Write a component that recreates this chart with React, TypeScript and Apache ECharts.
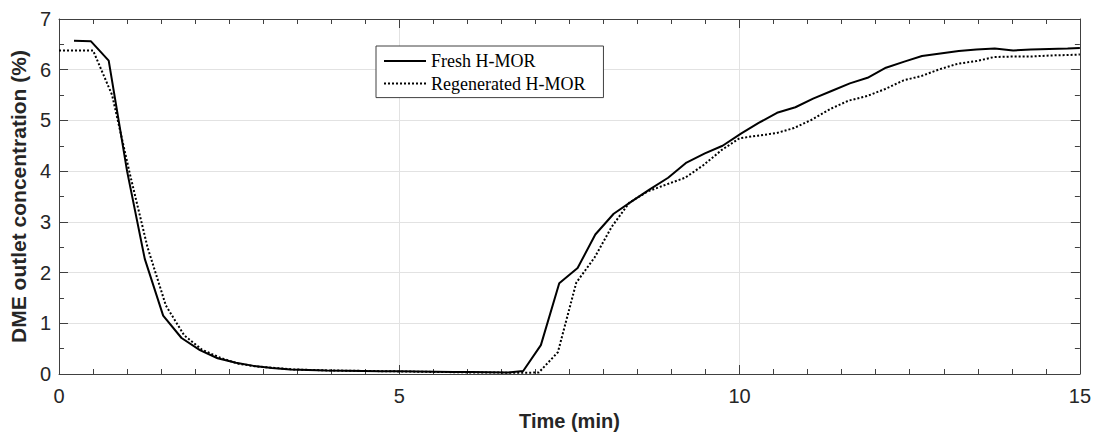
import React, { useEffect, useRef } from "react";
import * as echarts from "echarts";

const freshTime = [0.22, 0.47, 0.73, 1.0, 1.26, 1.53, 1.8, 2.07, 2.33, 2.6, 2.86, 3.13, 3.4, 3.66, 3.93, 4.2, 4.46, 4.73, 5.0, 5.26, 5.53, 5.8, 6.06, 6.33, 6.6, 6.82, 7.08, 7.35, 7.62, 7.88, 8.15, 8.41, 8.68, 8.95, 9.22, 9.49, 9.75, 10.02, 10.28, 10.55, 10.82, 11.08, 11.35, 11.62, 11.88, 12.15, 12.42, 12.68, 12.95, 13.22, 13.48, 13.75, 14.02, 14.28, 14.55, 14.82, 15.0];
const freshValue = [6.57, 6.56, 6.18, 4.0, 2.27, 1.15, 0.71, 0.47, 0.31, 0.22, 0.16, 0.12, 0.09, 0.08, 0.07, 0.065, 0.06, 0.055, 0.055, 0.05, 0.045, 0.04, 0.04, 0.035, 0.03, 0.06, 0.57, 1.79, 2.09, 2.75, 3.16, 3.4, 3.64, 3.87, 4.17, 4.35, 4.5, 4.74, 4.95, 5.15, 5.26, 5.43, 5.58, 5.73, 5.84, 6.04, 6.16, 6.27, 6.32, 6.37, 6.4, 6.42, 6.38, 6.4, 6.41, 6.42, 6.43];

const regenTime = [0.0, 0.25, 0.5, 0.78, 1.04, 1.3, 1.57, 1.84, 2.1, 2.37, 2.64, 2.9, 3.17, 3.44, 3.7, 3.97, 4.24, 4.5, 4.77, 5.04, 5.3, 5.57, 5.84, 6.1, 6.37, 6.64, 6.9, 7.05, 7.33, 7.6, 7.87, 8.12, 8.38, 8.65, 8.93, 9.2, 9.47, 9.74, 10.0, 10.27, 10.54, 10.8, 11.07, 11.34, 11.6, 11.87, 12.14, 12.41, 12.68, 12.94, 13.21, 13.48, 13.74, 14.01, 14.28, 14.55, 14.82, 15.0];
const regenValue = [6.38, 6.38, 6.38, 5.5, 3.95, 2.5, 1.35, 0.76, 0.48, 0.32, 0.2, 0.15, 0.12, 0.09, 0.08, 0.07, 0.065, 0.06, 0.055, 0.05, 0.045, 0.04, 0.035, 0.03, 0.03, 0.025, 0.025, 0.03, 0.43, 1.8, 2.3, 2.9, 3.38, 3.6, 3.74, 3.87, 4.12, 4.42, 4.65, 4.7, 4.75, 4.85, 5.02, 5.23, 5.39, 5.48, 5.62, 5.79, 5.88, 6.01, 6.12, 6.17, 6.25, 6.26, 6.26, 6.28, 6.29, 6.3];

const seriesNames = ["Fresh H-MOR", "Regenerated H-MOR"];
const xTitle = "Time (min)";
const yTitle = "DME outlet concentration (%)";

const sans = "'Liberation Sans', Arial, Helvetica, sans-serif";
const serif = "'Liberation Serif', 'Times New Roman', serif";
const axisColor = "#404040";
const gridColor = "#e2e2e2";

export default function App() {
  const ref = useRef<HTMLDivElement>(null);
  useEffect(() => {
    document.body.style.margin = "0";
    if (!ref.current) return;
    const chart = echarts.init(ref.current, null, { renderer: "svg" });
    const pair = (t: number[], v: number[]) => t.map((x, i) => [x, v[i]]);
    const frameX = (pos: "bottom" | "top") => ({
      type: "value",
      position: pos,
      min: 0,
      max: 15,
      interval: 5,
      axisLine: { show: true, onZero: false, lineStyle: { color: axisColor, width: 1 } },
      axisTick: { show: true, inside: true, length: 9, lineStyle: { color: axisColor } },
      minorTick: { show: true, splitNumber: 10, length: 5, lineStyle: { color: axisColor } },
      splitLine: { show: pos === "bottom", lineStyle: { color: gridColor, width: 1 } },
      axisLabel: {
        show: pos === "bottom",
        margin: 12,
        fontSize: 20,
        fontFamily: sans,
        color: "#262626",
      },
    });
    const frameY = (pos: "left" | "right") => ({
      type: "value",
      position: pos,
      min: 0,
      max: 7,
      interval: 1,
      axisLine: { show: true, onZero: false, lineStyle: { color: axisColor, width: 1 } },
      axisTick: { show: true, inside: true, length: 9, lineStyle: { color: axisColor } },
      minorTick: { show: true, splitNumber: 2, length: 5, lineStyle: { color: axisColor } },
      splitLine: { show: pos === "left", lineStyle: { color: gridColor, width: 1 } },
      axisLabel: {
        show: pos === "left",
        margin: 8,
        fontSize: 20,
        fontFamily: sans,
        color: "#262626",
      },
    });
    const xb: any = frameX("bottom");
    xb.name = xTitle;
    xb.nameLocation = "middle";
    xb.nameGap = 37;
    xb.nameTextStyle = { fontSize: 20, fontWeight: "bold", fontFamily: sans, color: "#262626" };
    const yl: any = frameY("left");
    yl.name = yTitle;
    yl.nameLocation = "middle";
    yl.nameGap = 24;
    yl.nameTextStyle = { fontSize: 21, fontWeight: "bold", fontFamily: sans, color: "#262626" };

    chart.setOption({
      animation: false,
      backgroundColor: "#ffffff",
      grid: { left: 55.7, right: 13, top: 19, bottom: 57.4, containLabel: false },
      xAxis: [xb, frameX("top")],
      yAxis: [yl, frameY("right")],
      legend: {
        orient: "vertical",
        left: 376,
        top: 46,
        padding: [6, 18, 5, 7],
        itemGap: 4.6,
        itemWidth: 42,
        itemHeight: 14,
        borderColor: axisColor,
        borderWidth: 1,
        backgroundColor: "#ffffff",
        itemStyle: { opacity: 0 },
        textStyle: { fontFamily: serif, fontSize: 18, color: "#000000" },
        data: seriesNames,
      },
      series: [
        {
          name: seriesNames[0],
          type: "line",
          xAxisIndex: 0,
          yAxisIndex: 0,
          data: pair(freshTime, freshValue),
          symbol: "none",
          showSymbol: false,
          lineStyle: { color: "#000000", width: 2, type: "solid" },
          itemStyle: { color: "#000000" },
          z: 3,
        },
        {
          name: seriesNames[1],
          type: "line",
          xAxisIndex: 0,
          yAxisIndex: 0,
          data: pair(regenTime, regenValue),
          symbol: "none",
          showSymbol: false,
          lineStyle: { color: "#000000", width: 2, type: [2, 2] },
          itemStyle: { color: "#000000" },
          z: 2,
        },
      ],
    });
    return () => chart.dispose();
  }, []);
  return <div ref={ref} style={{ width: 1094, height: 436 }} />;
}
